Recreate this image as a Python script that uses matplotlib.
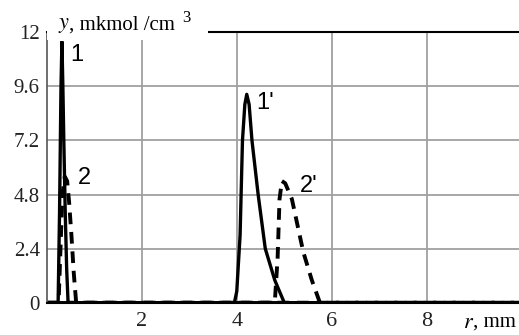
import matplotlib
matplotlib.use("Agg")
import matplotlib.pyplot as plt

# ---- data ----
r1 = [0, 0.24, 0.27, 0.30, 0.32, 0.34, 0.36, 0.39, 0.42, 0.45, 10]
y1 = [0, 0, 4.0, 9.5, 11.6, 9.6, 7.2, 4.0, 1.5, 0, 0]

r2 = [0, 0.25, 0.29, 0.33, 0.38, 0.43, 0.47, 0.52, 0.57, 0.62, 10]
y2 = [0, 0, 2.4, 4.8, 5.6, 5.4, 4.5, 3.0, 1.3, 0, 0]

r1p = [0, 3.95, 4.00, 4.07, 4.12, 4.17, 4.21, 4.26, 4.32, 4.45, 4.60, 4.80, 5.00, 10]
y1p = [0, 0, 0.5, 3.0, 7.2, 8.8, 9.25, 8.8, 7.2, 4.8, 2.4, 1.0, 0, 0]

r2p = [0, 4.80, 4.86, 4.90, 4.95, 5.02, 5.16, 5.40, 5.58, 5.75, 10]
y2p = [0, 0, 2.0, 4.6, 5.4, 5.3, 4.6, 2.25, 1.0, 0, 0]

xticks = [2, 4, 6, 8]
yticks = [0, 2.4, 4.8, 7.2, 9.6, 12]
ytick_labels = ["0", "2.4", "4.8", "7.2", "9.6", "12"]

fig = plt.figure(figsize=(5.19, 3.35), dpi=100)
ax = fig.add_axes([0.09, 0.0964, 0.91, 0.807])
ax.set_xlim(0, 9.94)
ax.set_ylim(0, 12)

ax.set_xticks(xticks)
ax.set_xticklabels([str(t) for t in xticks])
ax.set_yticks(yticks)
ax.set_yticklabels(ytick_labels)
ax.grid(True, color="#a0a0a0", linewidth=1.3)
ax.set_axisbelow(True)
ax.tick_params(length=0, colors="#222222")
ax.tick_params(axis="x", pad=7, labelsize=16)
ax.tick_params(axis="y", pad=5, labelsize=15)
for lab in ax.get_xticklabels() + ax.get_yticklabels():
    lab.set_family("Liberation Serif")

ax.spines["right"].set_visible(False)
ax.spines["left"].set_color("#555555")
ax.spines["left"].set_linewidth(1.2)
ax.spines["top"].set_linewidth(1.5)
ax.spines["bottom"].set_linewidth(1.5)

lw = 2.4
ax.plot(r1, y1, color="black", lw=lw, solid_joinstyle="miter")
ax.plot(r2, y2, color="black", lw=lw + 0.4, ls=(0, (3, 2)))
ax.plot(r1p, y1p, color="black", lw=lw)
ax.plot(r2p, y2p, color="black", lw=lw + 0.4, ls=(0, (3, 2)))

lab_kw = dict(fontsize=17, family="Liberation Sans", va="center", ha="left")
ax.text(0.5, 11.0, "1", **lab_kw)
ax.text(0.66, 5.55, "2", **lab_kw)
ax.text(4.42, 8.85, "1'", **lab_kw)
ax.text(5.32, 5.2, "2'", **lab_kw)

# axis labels
fig.text(0.892, 0.038, "$r$", fontsize=16, va="center", ha="left",
         math_fontfamily="stix")
fig.text(0.912, 0.038, ", mm", fontsize=15, family="Liberation Serif",
         va="center", ha="left")

fig.patches.append(matplotlib.patches.Rectangle((0.0905, 0.88), 0.31, 0.12,
                   transform=fig.transFigure, facecolor="white", edgecolor="none",
                   zorder=5))
fig.text(0.112, 0.925, "$y$", fontsize=16, va="center", ha="left",
         math_fontfamily="stix", zorder=6)
fig.text(0.133, 0.925, ", mkmol /cm", fontsize=15, family="Liberation Serif",
         va="center", ha="left", zorder=6)
fig.text(0.351, 0.945, "3", fontsize=12, family="Liberation Serif",
         va="center", ha="left", zorder=6)

fig.savefig("out.png", dpi=100)
